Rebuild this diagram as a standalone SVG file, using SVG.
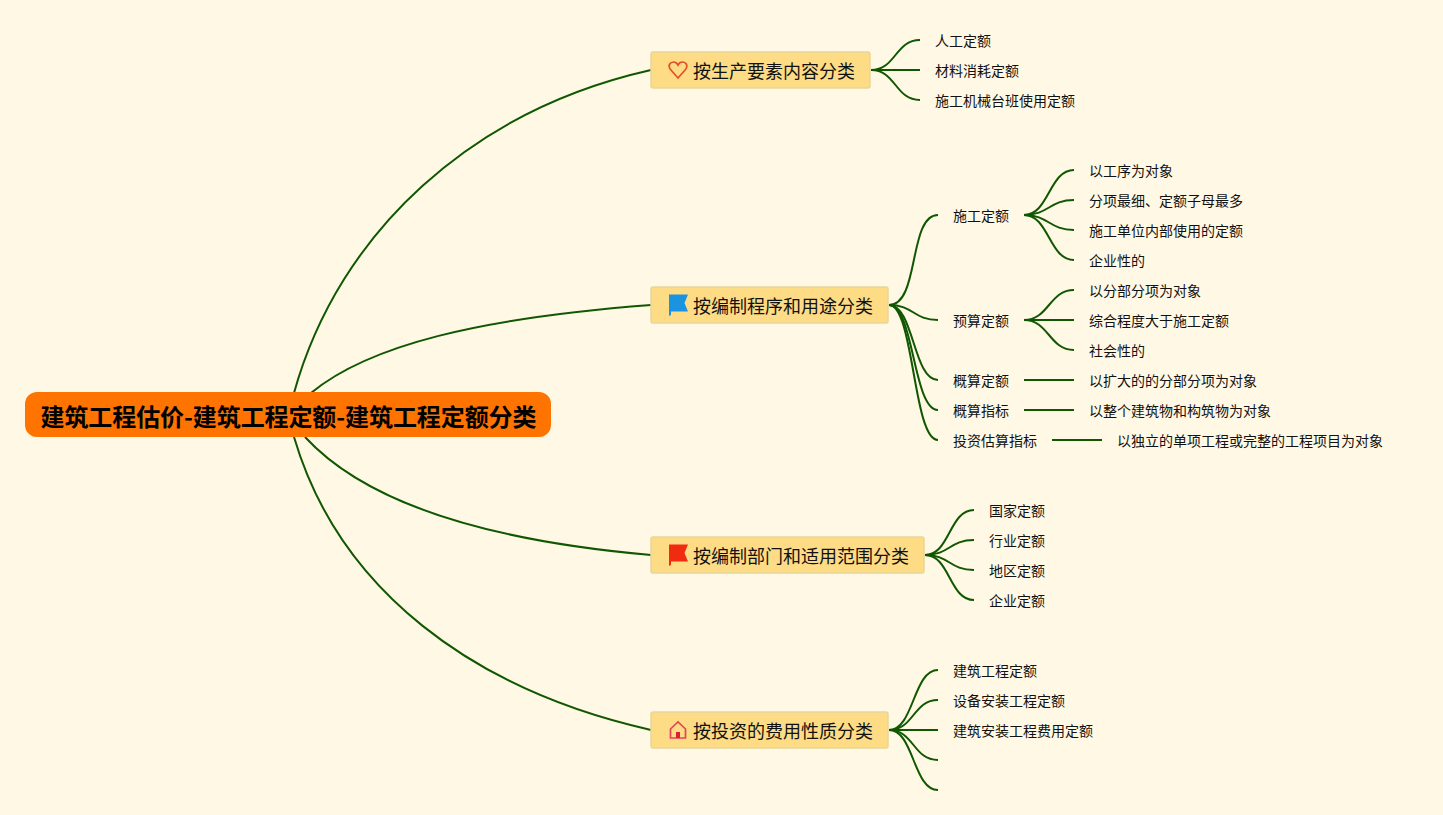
<svg xmlns="http://www.w3.org/2000/svg" width="1443" height="815" viewBox="0 0 1443 815">
<style>
text{font-family:"Noto Sans CJK SC","Noto Sans",sans-serif;fill:#111}
.l{font-size:14px}
.m{font-size:18px}
.r{font-size:24px;font-weight:700;fill:#000}
.b{fill:#fddc85;stroke:#e8d59a;stroke-width:1.5}
#connectors path{fill:none;stroke:#105702;stroke-width:2}
</style>
<rect width="1443" height="815" fill="#fff8e4"/>
<g id="connectors">
<path d="M294 393C339 231 473 110 651 70"/>
<path d="M311 393C369 345 480 318 651 305"/>
<path d="M305 437C363 500 480 540 651 555"/>
<path d="M294 437C339 590 473 690 651 730"/>
<path d="M871 70C896 70 895 40 920 40"/>
<path d="M871 70H920"/>
<path d="M871 70C896 70 895 100 920 100"/>
<path d="M889 305C920 305 908 215 938 215"/>
<path d="M889 305C914 305 913 320 938 320"/>
<path d="M889 305C914 305 913 380 938 380"/>
<path d="M889 305C914 305 913 410 938 410"/>
<path d="M889 305C914 305 913 440 938 440"/>
<path d="M1024 215C1049 215 1049 170 1074 170"/>
<path d="M1024 215C1049 215 1049 200 1074 200"/>
<path d="M1024 215C1049 215 1049 230 1074 230"/>
<path d="M1024 215C1049 215 1049 260 1074 260"/>
<path d="M1024 320C1049 320 1049 290 1074 290"/>
<path d="M1024 320H1074"/>
<path d="M1024 320C1049 320 1049 350 1074 350"/>
<path d="M1024 380H1074"/>
<path d="M1024 410H1074"/>
<path d="M1052 440H1102"/>
<path d="M925 555C950 555 949 510 974 510"/>
<path d="M925 555C950 555 949 540 974 540"/>
<path d="M925 555C950 555 949 570 974 570"/>
<path d="M925 555C950 555 949 600 974 600"/>
<path d="M889 730C914 730 913 670 938 670"/>
<path d="M889 730C914 730 913 700 938 700"/>
<path d="M889 730H938"/>
<path d="M889 730C914 730 913 760 938 760"/>
<path d="M889 730C914 730 913 790 938 790"/>
</g>
<g id="root">
<rect x="25" y="392" width="526" height="45" rx="12" fill="#ff7300"/>
<text class="r" x="40.500" y="426" textLength="496" lengthAdjust="spacing">建筑工程估价-建筑工程定额-建筑工程定额分类</text>
</g>
<g id="n1">
<rect class="b" x="651" y="52" width="219" height="36" rx="2"/>
<path d="M678 78L670.500 69.500C667.500 65.500 670 62 673.500 62C676 62 677.500 64 678 65C678.500 64 680 62 682.500 62C686 62 688.500 65.500 685.500 69.500Z" fill="none" stroke="#e2502a" stroke-width="1.700"/>
<text class="m" x="693" y="78">按生产要素内容分类</text>
</g>
<g id="n2">
<rect class="b" x="651" y="287" width="237" height="36" rx="2"/>
<path d="M669 294.500H688L684.500 303L688 311.500H671V315L669 316Z" fill="#1a94e0"/>
<text class="m" x="693" y="313">按编制程序和用途分类</text>
</g>
<g id="n3">
<rect class="b" x="651" y="537" width="273" height="36" rx="2"/>
<path d="M669 544.500H688L684.500 553L688 561.500H671V565L669 566Z" fill="#f02b10"/>
<text class="m" x="693" y="563">按编制部门和适用范围分类</text>
</g>
<g id="n4">
<rect class="b" x="651" y="712" width="237" height="36" rx="2"/>
<path d="M670.500 729L678 722L685.500 729V738H670.500Z" fill="none" stroke="#e0455a" stroke-width="1.700"/>
<rect x="676" y="732" width="4" height="6" fill="#d81f3c"/>
<text class="m" x="693" y="738">按投资的费用性质分类</text>
</g>
<g id="leaves">
<text class="l" x="935" y="46">人工定额</text>
<text class="l" x="935" y="76">材料消耗定额</text>
<text class="l" x="935" y="106">施工机械台班使用定额</text>
<text class="l" x="953" y="221">施工定额</text>
<text class="l" x="953" y="326">预算定额</text>
<text class="l" x="953" y="386">概算定额</text>
<text class="l" x="953" y="416">概算指标</text>
<text class="l" x="953" y="446">投资估算指标</text>
<text class="l" x="1089" y="176">以工序为对象</text>
<text class="l" x="1089" y="206">分项最细、定额子母最多</text>
<text class="l" x="1089" y="236">施工单位内部使用的定额</text>
<text class="l" x="1089" y="266">企业性的</text>
<text class="l" x="1089" y="296">以分部分项为对象</text>
<text class="l" x="1089" y="326">综合程度大于施工定额</text>
<text class="l" x="1089" y="356">社会性的</text>
<text class="l" x="1089" y="386">以扩大的的分部分项为对象</text>
<text class="l" x="1089" y="416">以整个建筑物和构筑物为对象</text>
<text class="l" x="1117" y="446">以独立的单项工程或完整的工程项目为对象</text>
<text class="l" x="989" y="516">国家定额</text>
<text class="l" x="989" y="546">行业定额</text>
<text class="l" x="989" y="576">地区定额</text>
<text class="l" x="989" y="606">企业定额</text>
<text class="l" x="953" y="676">建筑工程定额</text>
<text class="l" x="953" y="706">设备安装工程定额</text>
<text class="l" x="953" y="736">建筑安装工程费用定额</text>
</g>
</svg>
